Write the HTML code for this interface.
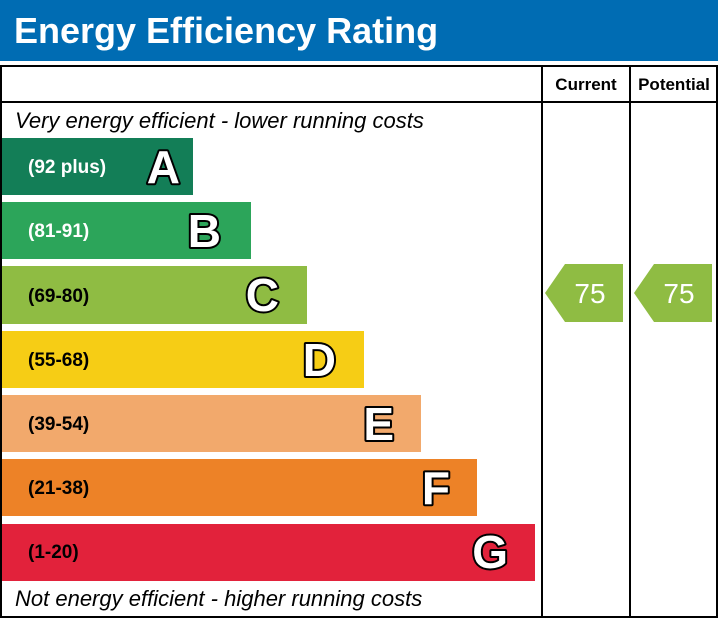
<!DOCTYPE html>
<html><head><style>body{margin:0;background:#fff}svg{display:block}.L{font-weight:bold;font-size:46px;fill:#fff;stroke:#000;stroke-width:4px;paint-order:stroke;stroke-linejoin:round}.b{font-weight:bold;font-size:19px}</style></head><body>
<svg width="718" height="619" xmlns="http://www.w3.org/2000/svg" font-family="Liberation Sans, Arial, sans-serif">
<rect x="0" y="0" width="718" height="61" fill="#006cb3"/>
<text x="14" y="43" font-size="36" font-weight="bold" fill="#fff">Energy Efficiency Rating</text>
<rect x="1" y="66" width="716" height="551" fill="none" stroke="#000" stroke-width="2"/>
<line x1="1" y1="102" x2="717" y2="102" stroke="#000" stroke-width="2"/>
<line x1="542" y1="66" x2="542" y2="617" stroke="#000" stroke-width="2"/>
<line x1="630" y1="66" x2="630" y2="617" stroke="#000" stroke-width="2"/>
<text x="586" y="90" font-size="17" font-weight="bold" text-anchor="middle">Current</text>
<text x="674" y="90" font-size="17" font-weight="bold" text-anchor="middle">Potential</text>
<text x="15" y="128" font-size="22" font-style="italic">Very energy efficient - lower running costs</text>
<text x="15" y="606" font-size="22" font-style="italic">Not energy efficient - higher running costs</text>
<rect x="2" y="138" width="191" height="57" fill="#137e57"/>
<text class="b" x="28" y="173" fill="#fff">(92 plus)</text>
<text class="L" x="180" y="183" text-anchor="end">A</text>
<rect x="2" y="202" width="249" height="57" fill="#2ca55a"/>
<text class="b" x="28" y="237" fill="#fff">(81-91)</text>
<text class="L" x="221" y="247" text-anchor="end">B</text>
<rect x="2" y="266" width="305" height="58" fill="#8fbc43"/>
<text class="b" x="28" y="302">(69-80)</text>
<text class="L" x="279" y="311" text-anchor="end">C</text>
<rect x="2" y="331" width="362" height="57" fill="#f6cd15"/>
<text class="b" x="28" y="366">(55-68)</text>
<text class="L" x="336" y="376" text-anchor="end">D</text>
<rect x="2" y="395" width="419" height="57" fill="#f2a96c"/>
<text class="b" x="28" y="430">(39-54)</text>
<text class="L" x="394" y="440" text-anchor="end">E</text>
<rect x="2" y="459" width="475" height="57" fill="#ed8227"/>
<text class="b" x="28" y="494">(21-38)</text>
<text class="L" x="450" y="504" text-anchor="end">F</text>
<rect x="2" y="524" width="533" height="57" fill="#e2223b"/>
<text class="b" x="28" y="558">(1-20)</text>
<text class="L" x="508" y="568" text-anchor="end">G</text>
<polygon points="545,293 565,264 623,264 623,322 565,322" fill="#8fbc43"/>
<text x="590" y="303" font-size="28" fill="#fff" text-anchor="middle">75</text>
<polygon points="634,293 654,264 712,264 712,322 654,322" fill="#8fbc43"/>
<text x="679" y="303" font-size="28" fill="#fff" text-anchor="middle">75</text>
</svg>
</body></html>
